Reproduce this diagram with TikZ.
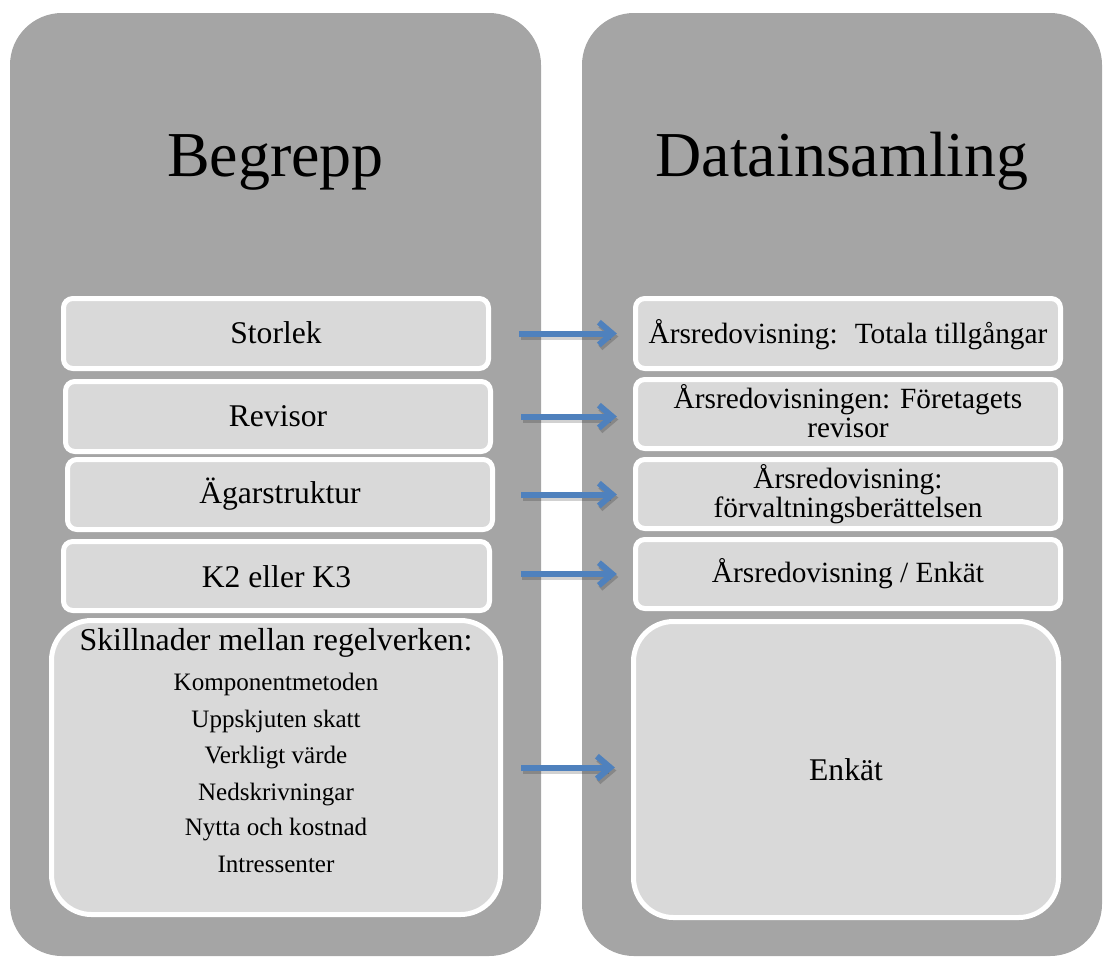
\documentclass[tikz,border=0pt]{standalone}
\usepackage{fontspec}
\setmainfont{Liberation Serif}
\usetikzlibrary{arrows.meta,fit}
\definecolor{panelgray}{HTML}{A5A5A5}
\definecolor{boxgray}{HTML}{D9D9D9}
\definecolor{arrowblue}{HTML}{4F81BD}

\begin{document}
\begin{tikzpicture}[x=0.75pt,y=-0.75pt,
  panel/.style={fill=panelgray, draw=none, rounded corners=39pt, inner sep=0pt, outer sep=0pt},
  row/.style={fill=boxgray, draw=white, line width=3.75pt, rounded corners=7pt, inner sep=0pt, outer sep=0pt},
  bigrow/.style={row, rounded corners=30pt},
  title/.style={anchor=base, font=\fontsize{48}{58}\selectfont, inner sep=0pt},
  lefttext/.style={anchor=base, font=\fontsize{23.7}{28}\selectfont, inner sep=0pt},
  righttext/.style={anchor=base, font=\fontsize{22}{26}\selectfont, inner sep=0pt},
  subtext/.style={anchor=base, font=\fontsize{18.8}{22}\selectfont, inner sep=0pt},
  link/.style={draw=arrowblue, line width=4.5pt, -{Straight Barb[length=10pt,width=17pt]}, shorten >=14pt},
  linkshadow/.style={link, draw=black, opacity=0.18, transform canvas={shift={(1.5,3)}}},
]
\useasboundingbox (0,0) rectangle (1103,957);

% two columns
\node[panel, fit={(10,13)(541,956)}] (colL) {};
\node[panel, fit={(582,13)(1102,956)}] (colR) {};

\node[title] (hL) at (275.5,176) {Begrepp};
\node[title] (hR) at (842,176) {Datainsamling};

% left column rows
\node[row, fit={(63.5,298.5)(488.5,368.5)}] (storlek) {};
\node[row, fit={(65.5,381.5)(490.5,451.5)}] (revisor) {};
\node[row, fit={(67.5,459.5)(492.5,529.5)}] (agar) {};
\node[row, fit={(63.5,541.5)(489.5,610.5)}] (kx) {};
\node[bigrow, fit={(51.5,620.5)(500.5,914.5)}] (skill) {};

% right column rows
\node[row, fit={(635.5,298.5)(1060.5,368.5)}] (totala) {};
\node[row, fit={(635.5,379.5)(1060.5,448.5)}] (foretag) {};
\node[row, fit={(635.5,459.5)(1060.5,528.5)}] (forvalt) {};
\node[row, fit={(635.5,539.5)(1060.5,608.5)}] (arsenk) {};
\node[bigrow, fit={(633.5,621.5)(1058.5,917.5)}] (enkat) {};

% left texts
\node[lefttext] (tStorlek) at (276,343) {Storlek};
\node[lefttext] (tRevisor) at (278,426) {Revisor};
\node[lefttext] (tAgar) at (280,503) {Ägarstruktur};
\node[lefttext] (tKx) at (276.5,587) {K2 eller K3};
\node[lefttext, font=\fontsize{23.9}{28}\selectfont] (tSkill) at (276,650) {Skillnader mellan regelverken:};
\node[subtext] (s1) at (276,690) {Komponentmetoden};
\node[subtext] (s2) at (276,727) {Uppskjuten skatt};
\node[subtext] (s3) at (276,763) {Verkligt värde};
\node[subtext] (s4) at (276,800) {Nedskrivningar};
\node[subtext] (s5) at (276,835) {Nytta och kostnad};
\node[subtext] (s6) at (276,872) {Intressenter};

% right texts
\node[righttext] (tTotala) at (848,343) {Årsredovisning:~ Totala tillgångar};
\node[righttext] (tForetagA) at (848,408) {Årsredovisningen: Företagets};
\node[righttext] (tForetagB) at (848,437) {revisor};
\node[righttext] (tForvaltA) at (848,488) {Årsredovisning:};
\node[righttext] (tForvaltB) at (848,517) {förvaltningsberättelsen};
\node[righttext] (tArsenk) at (848,582) {Årsredovisning / Enkät};
\node[lefttext] (tEnkat) at (846,780) {Enkät};

% connecting arrows (shadow first, then arrow)
\draw[linkshadow, shorten <=22.9pt] (storlek.east) -- (storlek.east -| totala.west);
\draw[link, shorten <=22.9pt] (storlek.east) -- (storlek.east -| totala.west);
\draw[linkshadow, shorten <=22.9pt] (revisor.east) -- (revisor.east -| foretag.west);
\draw[link, shorten <=22.9pt] (revisor.east) -- (revisor.east -| foretag.west);
\draw[linkshadow, shorten <=21.4pt] (agar.east) -- (agar.east -| forvalt.west);
\draw[link, shorten <=21.4pt] (agar.east) -- (agar.east -| forvalt.west);
\draw[linkshadow, shorten <=23.6pt] (kx.east |- arsenk.west) -- (arsenk.west);
\draw[link, shorten <=23.6pt] (kx.east |- arsenk.west) -- (arsenk.west);
\draw[linkshadow, shorten <=15.4pt] (skill.east) -- (skill.east -| enkat.west);
\draw[link, shorten <=15.4pt] (skill.east) -- (skill.east -| enkat.west);
\end{tikzpicture}
\end{document}
